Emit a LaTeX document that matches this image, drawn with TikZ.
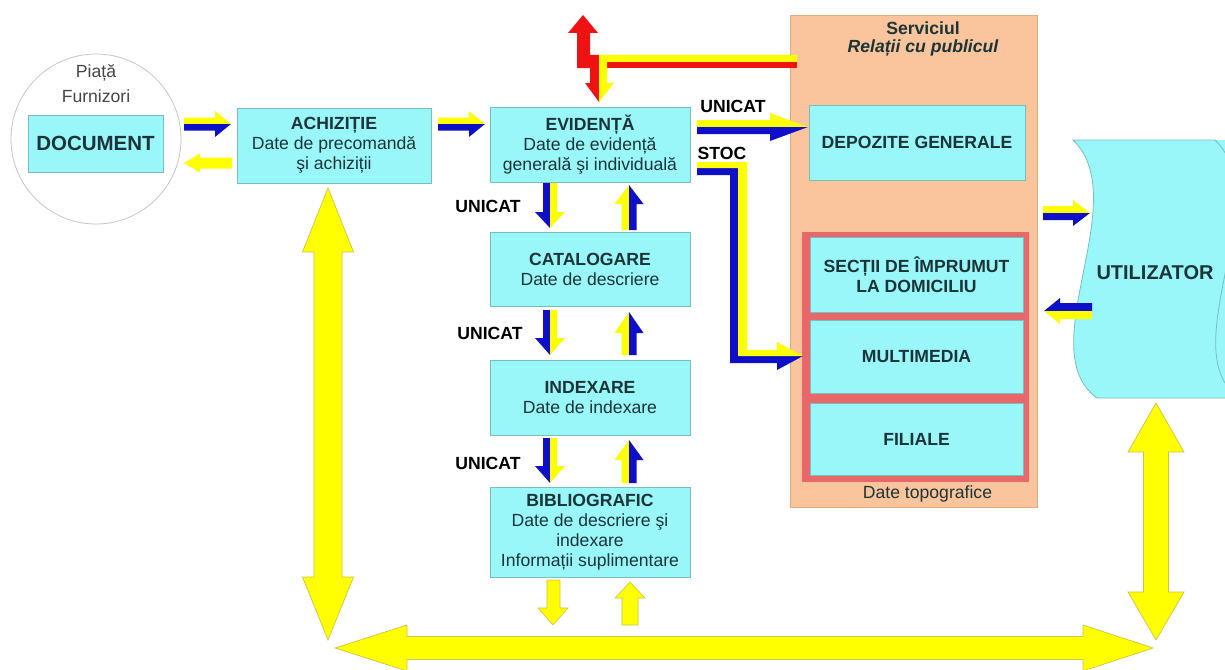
\documentclass[tikz,border=0pt]{standalone}
\usepackage{fontspec}
\setmainfont{Liberation Sans}
\definecolor{boxcyan}{RGB}{153,247,250}
\definecolor{boxline}{RGB}{120,190,190}
\definecolor{orangebg}{RGB}{250,197,156}
\definecolor{orangeline}{RGB}{222,170,128}
\definecolor{redframe}{RGB}{232,104,106}
\definecolor{ayellow}{RGB}{255,255,0}
\definecolor{ablue}{RGB}{15,15,200}
\definecolor{ared}{RGB}{238,18,18}
\definecolor{txt}{RGB}{28,52,55}
\definecolor{gtxt}{RGB}{70,70,70}
\definecolor{yline}{RGB}{205,195,70}
\newcommand\hArrow[8]{% x0, xb, x1, yc, w, h, top, bottom
 \fill[#7] ({#1},{#4-#5}) -- ({#2},{#4-#5}) -- ({#2},{#4-#6}) -- ({#3},{#4}) -- ({#1},{#4}) -- cycle;
 \fill[#8] ({#1},{#4}) -- ({#3},{#4}) -- ({#2},{#4+#6}) -- ({#2},{#4+#5}) -- ({#1},{#4+#5}) -- cycle;}
\newcommand\vArrow[8]{% y0, yb, y1, xc, w, h, left, right
 \fill[#7] ({#4-#5},{#1}) -- ({#4-#5},{#2}) -- ({#4-#6},{#2}) -- ({#4},{#3}) -- ({#4},{#1}) -- cycle;
 \fill[#8] ({#4},{#1}) -- ({#4},{#3}) -- ({#4+#6},{#2}) -- ({#4+#5},{#2}) -- ({#4+#5},{#1}) -- cycle;}
\newcommand\vDouble[7]{% xc, ytop, ybtop, ybbot, ybot, w, h
 \filldraw[bigyellow] ({#1},{#2}) -- ({#1+#7},{#3}) -- ({#1+#6},{#3}) -- ({#1+#6},{#4}) -- ({#1+#7},{#4}) -- ({#1},{#5}) -- ({#1-#7},{#4}) -- ({#1-#6},{#4}) -- ({#1-#6},{#3}) -- ({#1-#7},{#3}) -- cycle;}
\newcommand\hDouble[7]{% yc, xleft, xbl, xbr, xright, w, h
 \filldraw[bigyellow] ({#2},{#1}) -- ({#3},{#1-#7}) -- ({#3},{#1-#6}) -- ({#4},{#1-#6}) -- ({#4},{#1-#7}) -- ({#5},{#1}) -- ({#4},{#1+#7}) -- ({#4},{#1+#6}) -- ({#3},{#1+#6}) -- ({#3},{#1+#7}) -- cycle;}
\tikzset{
 bigyellow/.style={fill=ayellow, draw=yline, line width=0.7pt, line join=miter},
 box/.style={draw=boxline, fill=boxcyan, line width=0.8pt, inner sep=0pt, align=center,
   text=txt, font=\fontsize{17.6}{20}\selectfont},
 lbl/.style={inner sep=0pt, font=\fontsize{17.6}{20}\selectfont\bfseries, text=black},
 plain/.style={inner sep=0pt, align=center, font=\fontsize{17.6}{20}\selectfont}
}
\begin{document}
\begin{tikzpicture}[x=1pt,y=-1pt]
\useasboundingbox (0,0) rectangle (1225,669);
\fill[white] (0,0) rectangle (1225,669);

% market circle
\node[circle, draw=gray!45, fill=white, line width=0.8pt, minimum size=170, inner sep=0pt] (mkt) at (96,139) {};
\node[plain, text=gtxt] (piata) at (96,73) {Piață};
\node[plain, text=gtxt] (furn) at (96,96) {Furnizori};
\node[box, minimum width=135, minimum height=57, font=\fontsize{20.5}{24}\selectfont\bfseries] (doc) at (95.5,143.5) {DOCUMENT};

% central column
\node[box, minimum width=194, minimum height=75] (ach) at (334,145.5) {\textbf{ACHIZIȚIE}\\Date de precomandă\\şi achiziții};
\node[box, minimum width=200, minimum height=75] (evi) at (590,144.5) {\textbf{EVIDENȚĂ}\\Date de evidență\\generală şi individuală};
\node[box, minimum width=200, minimum height=74] (cat) at (590,269) {\textbf{CATALOGARE}\\Date de descriere};
\node[box, minimum width=200, minimum height=75] (idx) at (590,397.5) {\textbf{INDEXARE}\\Date de indexare};
\node[box, minimum width=200, minimum height=90] (bib) at (590,532) {\textbf{BIBLIOGRAFIC}\\Date de descriere şi\\indexare\\Informații suplimentare};

% service panel
\node[draw=orangeline, fill=orangebg, line width=0.8pt, minimum width=247, minimum height=492, inner sep=0pt] (srv) at (913.5,261) {};
\node[plain, text=txt, font=\fontsize{17.6}{20}\selectfont\bfseries] (srvt) at (923,28) {Serviciul};
\node[plain, text=txt, font=\fontsize{17.6}{20}\selectfont\bfseries\itshape] (srvt2) at (923,48) {Relații cu publicul};
\node[box, minimum width=216, minimum height=75, font=\fontsize{17.6}{20}\selectfont\bfseries] (dep) at (917,142.5) {DEPOZITE GENERALE};
\node[fill=redframe, minimum width=227, minimum height=250, inner sep=0pt] (grp) at (915.5,357) {};
\node[box, minimum width=213, minimum height=75, font=\fontsize{17.6}{20}\selectfont\bfseries] (sec) at (916.5,274.5) {SECȚII DE ÎMPRUMUT\\LA DOMICILIU};
\node[box, minimum width=213, minimum height=73, font=\fontsize{17.6}{20}\selectfont\bfseries] (mm) at (916.5,356.5) {MULTIMEDIA};
\node[box, minimum width=213, minimum height=72, font=\fontsize{17.6}{20}\selectfont\bfseries] (fil) at (916.5,439) {FILIALE};
\node[plain, text=txt] (topo) at (927.5,494) {Date topografice};

% user
\fill[boxcyan] (1073,140) -- (1230,140) -- (1240,250) -- (1240,398) -- (1097,398)
  .. controls (1030,350) and (1135,200) .. (1073,140) -- cycle;
\draw[boxline, line width=0.8pt] (1240,398) -- (1097,398) .. controls (1030,350) and (1135,200) .. (1073,140) -- (1215,140)
  .. controls (1277,200) and (1172,350) .. (1239,398);
\node[lbl, text=txt, font=\fontsize{20}{24}\selectfont\bfseries] (util) at (1155,273) {UTILIZATOR};

% labels
\node[lbl] (u0) at (733,106) {UNICAT};
\node[lbl] (stoc) at (722,153) {STOC};
\node[lbl] (u1) at (488,206) {UNICAT};
\node[lbl] (u2) at (490,333) {UNICAT};
\node[lbl] (u3) at (488,463) {UNICAT};

% horizontal flow arrows
\hArrow{184}{215}{231}{124}{6.5}{13}{ayellow}{ablue}
\hArrow{232}{200}{184}{163}{5.5}{9.5}{ayellow}{ayellow}
\hArrow{438}{469}{485}{124}{6.5}{13}{ayellow}{ablue}
\hArrow{697}{770}{808}{127}{7}{14}{ayellow}{ablue}
\hArrow{1043}{1073}{1090}{213}{7}{13}{ayellow}{ablue}
\hArrow{1092}{1060}{1044}{311}{8}{13}{ablue}{ayellow}

% STOC L-arrow
\fill[ablue] (697,168) -- (738,168) -- (738,356) -- (803,356) -- (777,370) -- (777,363) -- (730,363) -- (730,175) -- (697,175) -- cycle;
\fill[ayellow] (697,162) -- (747,162) -- (747,350) -- (777,350) -- (777,342) -- (803,356) -- (738,356) -- (738,168) -- (697,168) -- cycle;

% red / yellow arrows at top
\fill[ared] (577,68) -- (577,33) -- (568,33) -- (583,15) -- (598,33) -- (590,33) -- (590,55) -- (599,55) -- (599,102) -- (585,83) -- (590,83) -- (590,68) -- cycle;
\fill[ared] (590,62) rectangle (797,68);
\fill[ayellow] (599,55) -- (797,55) -- (797,62) -- (607,62) -- (607,83) -- (614,83) -- (599,102) -- cycle;

% vertical arrows of the column
\vArrow{183}{212}{228}{550}{7}{15}{ablue}{ayellow}
\vArrow{310}{338}{355}{550}{7}{15}{ablue}{ayellow}
\vArrow{438}{466}{483}{550}{7}{15}{ablue}{ayellow}
\vArrow{230}{204}{185}{629}{7.5}{14.5}{ayellow}{ablue}
\vArrow{355}{333}{312}{629}{7.5}{14.5}{ayellow}{ablue}
\vArrow{483}{460}{440}{629}{7.5}{14.5}{ayellow}{ablue}
\begin{scope}[draw=yline, line width=0.6pt]
\filldraw[fill=ayellow] (547,580) -- (547,608) -- (538,608) -- (553,625) -- (568,608) -- (560,608) -- (560,580) -- cycle;
\filldraw[fill=ayellow] (622,625) -- (622,598) -- (615,598) -- (630,582) -- (645,598) -- (638,598) -- (638,625) -- cycle;
\end{scope}

% big yellow double arrows
\vDouble{328}{188}{252}{577}{640}{14}{25.5}
\vDouble{1156}{403}{452}{592}{640}{12.5}{28}
\hDouble{648}{335}{407}{1083}{1153}{11.5}{23}
\end{tikzpicture}
\end{document}
